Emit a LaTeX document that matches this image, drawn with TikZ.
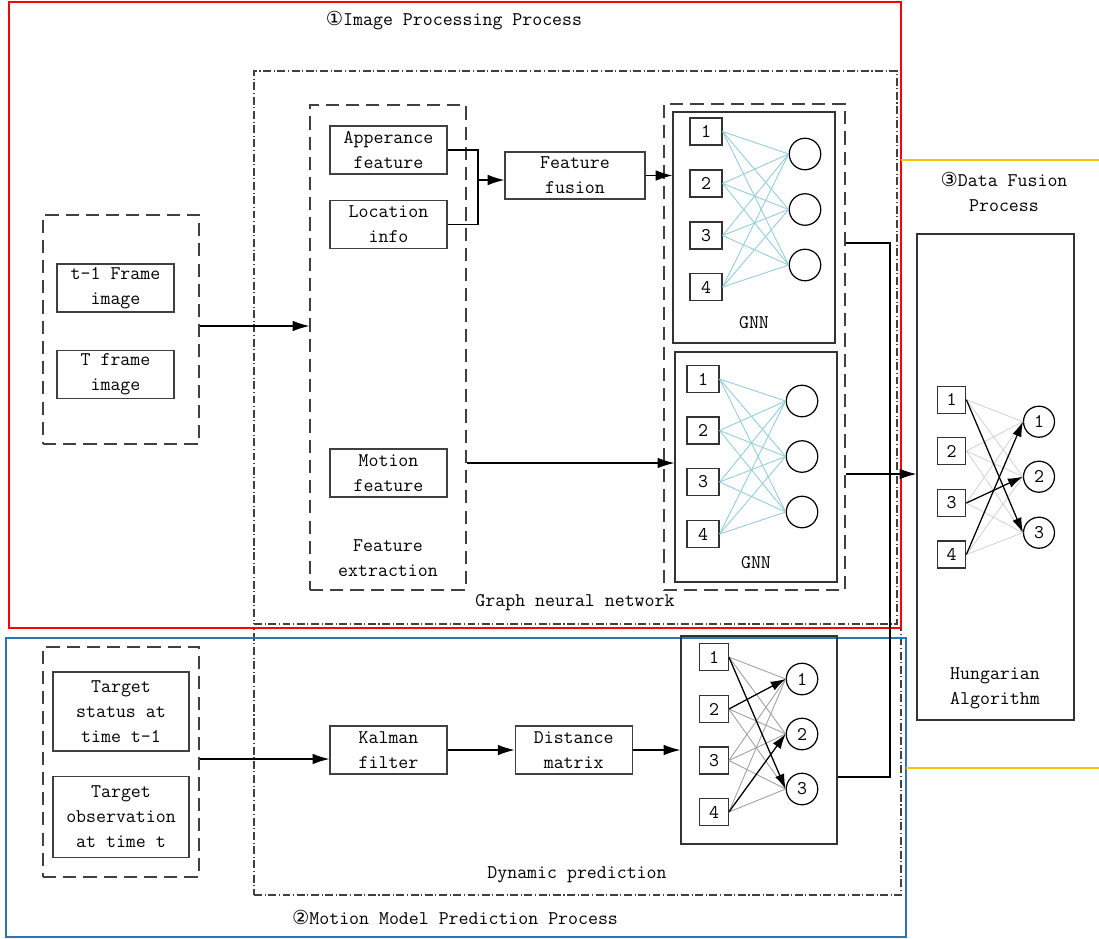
\documentclass[tikz,border=0pt]{standalone}
\usepackage{fontspec}
\newfontfamily\symfont{DejaVu Sans}
\usetikzlibrary{arrows.meta,positioning}
\definecolor{RegRed}{RGB}{255,0,0}
\definecolor{RegBlue}{RGB}{46,117,182}
\definecolor{RegYellow}{RGB}{255,192,0}
\definecolor{EdgeBlue}{RGB}{146,205,220}
\definecolor{EdgeGrey}{RGB}{160,160,160}
\definecolor{EdgeLight}{RGB}{212,212,212}

\begin{document}
\begin{tikzpicture}[x=0.02cm,y=-0.02cm,
        font=\fontsize{11}{14.2}\selectfont\ttfamily,
        box/.style={draw=black!75,line width=0.7pt,minimum width=23.4mm,
                    minimum height=9.6mm,inner sep=1pt,align=center},
        tbox/.style={box,minimum width=27.2mm,minimum height=15.8mm},
        grp/.style={draw=black!75,line width=0.7pt,dash pattern=on 7.5pt off 4pt,inner sep=0pt},
        ddgrp/.style={draw=black!75,line width=0.7pt,
                      dash pattern=on 4.5pt off 1.5pt on 0.6pt off 1.5pt,inner sep=0pt},
        panel/.style={draw=black!80,line width=0.7pt,inner sep=0pt},
        sq/.style={draw=black!80,line width=0.7pt,minimum width=6.4mm,
                   minimum height=5.4mm,inner sep=0pt},
        hsq/.style={sq,minimum width=5.7mm},
        cir/.style={draw,circle,line width=0.7pt,minimum size=6.3mm,inner sep=0pt},
        lbl/.style={align=center,inner sep=0pt},
        arr/.style={-{Latex[length=9.5pt,width=6pt]},line width=0.7pt},
        marr/.style={-{Latex[length=8.5pt,width=5.5pt]},line width=0.7pt}
      ]
        \useasboundingbox (0,0) rectangle (1099,938);
        % process regions
        \node[ddgrp,minimum width=128.6mm,minimum height=110.6mm] (gnnarea) at (575.5,347.5) {};
        \node[ddgrp,minimum width=129.4mm,minimum height=53.4mm] (dynarea) at (577.5,761.5) {};
        \draw[RegRed,line width=0.7pt] (9,2) rectangle (901,628);
        \draw[RegBlue,line width=0.7pt] (6,638) rectangle (906,937);
        \draw[RegYellow,line width=0.7pt] (901,160) -- (1099,160);
        \draw[RegYellow,line width=0.7pt] (906,768) -- (1099,768);
        \node[lbl] (ttlimg) at (454,21) {{\symfont ①}Image Processing Process};
        \node[lbl] (ttlmot) at (455,917) {{\symfont ②}Motion Model Prediction Process};
        \node[lbl] (ttlfus) at (1004,192) {{\symfont ③}Data Fusion\\Process};
        \node[lbl] (gnnlab) at (575,603) {Graph neural network};
        \node[lbl] (dynlab) at (577,875) {Dynamic prediction};

        % image processing
        \node[grp,minimum width=31.2mm,minimum height=45.8mm] (imgs) at (121,329.5) {};
        \node[box] (fa) at (115.5,288) {t-1 Frame\\image};
        \node[box,below=7.4mm of fa] (fb) {T frame\\image};
        \node[grp,minimum width=31.2mm,minimum height=97mm] (fe) at (388,347.5) {};
        \node[box] (app) at (388.5,150) {Apperance\\feature};
        \node[box,below=5mm of app] (loc) {Location\\info};
        \node[box] (mot) at (388.5,473) {Motion\\feature};
        \node[lbl] (felab) at (388,558.5) {Feature\\extraction};
        \node[box,minimum width=28mm,minimum height=9.4mm] (fus) at (575,175.5) {Feature\\fusion};

        % graph neural networks
        \node[grp,minimum width=36.2mm,minimum height=97.2mm] (gbox) at (754.5,347) {};
        \node[panel,minimum width=32.4mm,minimum height=46.2mm] (gnna) at (754,227.5) {};
        \node[panel,minimum width=32.4mm,minimum height=46mm] (gnnb) at (756,467) {};
        \node[lbl] (gnnalab) at (754,323) {GNN};
        \node[lbl] (gnnblab) at (756,563) {GNN};
        \foreach \i/\y in {1/131.5,2/183.5,3/235.5,4/287}
          \node[sq] (ga\i) at (706,\y) {\i};
        \foreach \j/\y in {1/154,2/209.5,3/265}
          \node[cir] (gc\j) at (805,\y) {};
        \foreach \i/\y in {1/379,2/430.5,3/482,4/534}
          \node[sq] (gb\i) at (703,\y) {\i};
        \foreach \j/\y in {1/401,2/456.5,3/512}
          \node[cir] (hc\j) at (802,\y) {};
        \foreach \i in {1,...,4}
          \foreach \j in {1,2,3} {
            \draw[EdgeBlue,line width=0.5pt] (ga\i.east) -- (gc\j.west);
            \draw[EdgeBlue,line width=0.5pt] (gb\i.east) -- (hc\j.west);
          }

        % motion model
        \node[grp,minimum width=31.2mm,minimum height=46mm] (tgt) at (121,762) {};
        \node[tbox] (ts) at (121,711.5) {Target\\status at\\time t-1};
        \node[tbox,minimum height=16.2mm,below=4.8mm of ts] (to) {Target\\observation\\at time t};
        \node[box] (kal) at (388.5,750) {Kalman\\filter};
        \node[box,right=13.4mm of kal] (dis) {Distance\\matrix};
        \node[panel,minimum width=31.2mm,minimum height=41.6mm] (bip) at (759,740) {};
        \foreach \i/\y in {1/657,2/709,3/760.5,4/812}
          \node[hsq] (da\i) at (714,\y) {\i};
        \foreach \j/\y in {1/679,2/734,3/789}
          \node[cir] (dc\j) at (802,\y) {\j};
        \foreach \i in {1,...,4}
          \foreach \j in {1,2,3}
            \draw[EdgeGrey,line width=0.5pt] (da\i.east) -- (dc\j.west);
        \draw[marr] (da1.east) -- (dc3.west);
        \draw[marr] (da2.east) -- (dc1.west);
        \draw[marr] (da4.east) -- (dc2.west);

        % data fusion
        \node[panel,minimum width=31.4mm,minimum height=97.2mm] (hun) at (995.5,477) {};
        \node[lbl] (hunlab) at (995,688) {Hungarian\\Algorithm};
        \foreach \i/\y in {1/399.7,2/451,3/503,4/554.5}
          \node[hsq] (ua\i) at (951.5,\y) {\i};
        \foreach \j/\y in {1/421.7,2/476.7,3/532.7}
          \node[cir,minimum size=6.2mm] (uc\j) at (1039,\y) {\j};
        \foreach \i in {1,...,4}
          \foreach \j in {1,2,3}
            \draw[EdgeLight,line width=0.5pt] (ua\i.east) -- (uc\j.west);
        \draw[marr] (ua1.east) -- (uc3.west);
        \draw[marr] (ua3.east) -- (uc2.west);
        \draw[marr] (ua4.east) -- (uc1.west);

        % connectors
        \coordinate (fj) at (478,180);
        \coordinate (oj) at (890,243);
        \draw[arr] (imgs.east |- 0,326) -- (fe.west |- 0,326);
        \draw[line width=0.7pt] (app.east) -| (fj) |- (loc.east);
        \draw[arr] (fj) -- (fj -| fus.west);
        \draw[arr] (fus.east) -- (fus.east -| gnna.west);
        \draw[arr] (fe.east |- 0,463) -- (gnnb.west |- 0,463);
        \draw[arr] (tgt.east |- 0,759) -- (kal.west |- 0,759);
        \draw[arr] (kal.east) -- (dis.west);
        \draw[arr] (dis.east) -- (dis.east -| bip.west);
        \draw[line width=0.7pt] (gbox.east |- oj) -- (oj) |- (bip.east |- 0,777);
        \draw[arr] (gbox.east |- 0,474) -- (hun.west |- 0,474);
      \end{tikzpicture}
\end{document}
